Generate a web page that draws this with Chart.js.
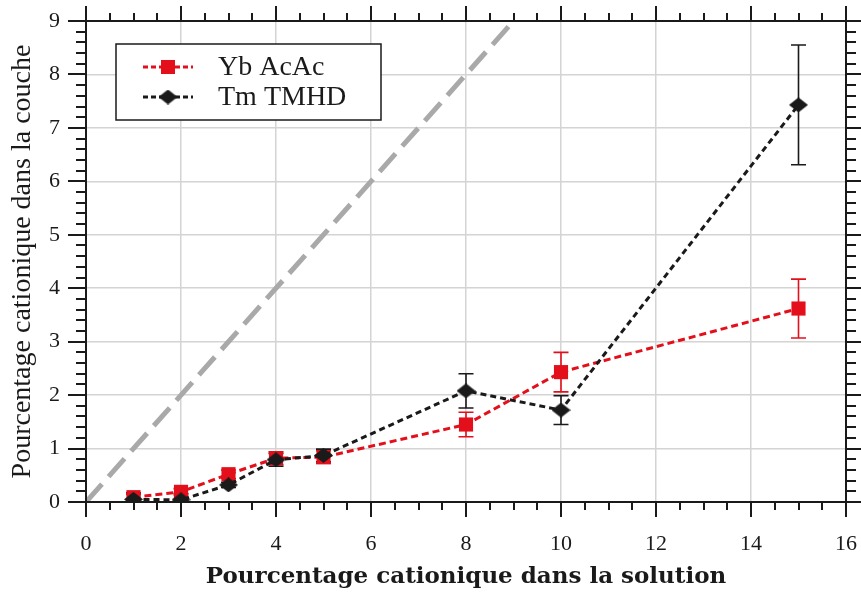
<!DOCTYPE html>
<html>
<head>
<meta charset="utf-8">
<script src="https://cdn.jsdelivr.net/npm/chart.js@4.4.1/dist/chart.umd.min.js"></script>
<style>
  html, body { margin: 0; padding: 0; background: #fff; }
  #wrap { width: 861px; height: 594px; }
</style>
</head>
<body>
<div id="wrap"><canvas id="chart" width="861" height="594"></canvas></div>
<script>
// ---- data ----
const xValues = [1, 2, 3, 4, 5, 8, 10, 15];
const ybLabel = 'Yb AcAc';
const ybValues = [0.09, 0.19, 0.52, 0.82, 0.84, 1.45, 2.43, 3.62];
const ybErrors = [0.05, 0.06, 0.08, 0.12, 0.12, 0.23, 0.37, 0.55];
const tmLabel = 'Tm TMHD';
const tmValues = [0.05, 0.04, 0.32, 0.79, 0.87, 2.08, 1.72, 7.43];
const tmErrors = [0.12, 0.12, 0.05, 0.12, 0.12, 0.32, 0.27, 1.12];
const diagX = [0, 9];
const diagY = [0, 9];

const RED = '#e3101c';
const BLACK = '#1a1a1a';
const SERIF = '"Liberation Serif", "Times New Roman", serif';

const toPts = (xs, ys) => xs.map((x, i) => ({ x, y: ys[i] }));

// flat diamond marker (wider than tall, like the original)
function makeDiamond(w, h, col) {
  const c = document.createElement('canvas');
  c.width = w; c.height = h;
  const g = c.getContext('2d');
  g.fillStyle = col;
  g.beginPath();
  g.moveTo(w / 2, 0); g.lineTo(w, h / 2); g.lineTo(w / 2, h); g.lineTo(0, h / 2);
  g.closePath();
  g.fill();
  return c;
}
const diamond = makeDiamond(19, 15, BLACK);

// kill the extra label padding chart.js adds around the chart area
const noPad = s => { s.paddingTop = 0; s.paddingBottom = 0; s.paddingLeft = 0; s.paddingRight = 0; };

// error bars, box, minor/major ticks, legend
const decor = {
  id: 'decor',
  beforeDatasetsDraw(chart) {
    const { ctx, chartArea: a, scales: { x, y } } = chart;
    const sets = [[ybValues, ybErrors, RED], [tmValues, tmErrors, BLACK]];
    ctx.save();
    ctx.beginPath();
    ctx.rect(a.left, a.top, a.right - a.left, a.bottom - a.top);
    ctx.clip();
    ctx.lineWidth = 1.6;
    sets.forEach(([vals, errs, col]) => {
      ctx.strokeStyle = col;
      xValues.forEach((xv, i) => {
        const px = x.getPixelForValue(xv);
        const lo = y.getPixelForValue(vals[i] - errs[i]);
        const hi = y.getPixelForValue(vals[i] + errs[i]);
        ctx.beginPath();
        ctx.moveTo(px, lo); ctx.lineTo(px, hi);
        ctx.moveTo(px - 7.5, lo); ctx.lineTo(px + 7.5, lo);
        ctx.moveTo(px - 7.5, hi); ctx.lineTo(px + 7.5, hi);
        ctx.stroke();
      });
    });
    ctx.restore();
  },
  afterDraw(chart) {
    const { ctx, chartArea: a, scales: { x, y } } = chart;
    ctx.save();
    ctx.strokeStyle = BLACK;
    ctx.lineWidth = 2;
    ctx.strokeRect(a.left, a.top, a.right - a.left, a.bottom - a.top);

    // x ticks, top and bottom, outward
    for (let i = 0; i <= 32; i++) {
      const px = Math.round(x.getPixelForValue(i * 0.5));
      const len = i % 4 === 0 ? 15 : 8;
      ctx.beginPath();
      ctx.moveTo(px, a.bottom); ctx.lineTo(px, a.bottom + len);
      ctx.moveTo(px, a.top); ctx.lineTo(px, a.top - len);
      ctx.stroke();
    }
    // y ticks, left and right, outward
    for (let i = 0; i <= 45; i++) {
      const py = Math.round(y.getPixelForValue(i * 0.2));
      const major = i % 5 === 0;
      ctx.beginPath();
      ctx.moveTo(a.left, py); ctx.lineTo(a.left - (major ? 18 : 10), py);
      ctx.moveTo(a.right, py); ctx.lineTo(a.right + (major ? 15 : 10), py);
      ctx.stroke();
    }

    // legend
    const bx = a.left + 30, by = a.top + 23, bw = 265, bh = 76;
    ctx.fillStyle = '#fff';
    ctx.fillRect(bx, by, bw, bh);
    ctx.lineWidth = 1.5;
    ctx.strokeRect(bx, by, bw, bh);
    const rows = [
      { label: ybLabel, col: RED },
      { label: tmLabel, col: BLACK }
    ];
    rows.forEach((row, i) => {
      const ly = by + 23 + i * 30;
      const cx = bx + 52;
      ctx.strokeStyle = row.col;
      ctx.lineWidth = 3;
      ctx.setLineDash([5, 3]);
      ctx.beginPath();
      ctx.moveTo(bx + 27, ly); ctx.lineTo(bx + 77, ly);
      ctx.stroke();
      ctx.setLineDash([]);
      if (i === 0) {
        ctx.fillStyle = row.col;
        ctx.fillRect(cx - 7, ly - 7, 14, 14);
      } else {
        ctx.drawImage(diamond, cx - 9.5, ly - 7.5);
      }
      ctx.fillStyle = BLACK;
      ctx.font = '28px ' + SERIF;
      ctx.textBaseline = 'middle';
      ctx.textAlign = 'left';
      ctx.fillText(row.label, bx + 102, ly + 1);
    });
    ctx.restore();
  }
};

new Chart(document.getElementById('chart'), {
  type: 'scatter',
  data: {
    datasets: [
      {
        label: tmLabel,
        data: toPts(xValues, tmValues),
        showLine: true,
        borderColor: BLACK,
        backgroundColor: BLACK,
        borderWidth: 3,
        borderDash: [6, 4],
        pointStyle: diamond,
        pointRadius: 9,
        order: 0
      },
      {
        label: ybLabel,
        data: toPts(xValues, ybValues),
        showLine: true,
        borderColor: RED,
        backgroundColor: RED,
        borderWidth: 3,
        borderDash: [7, 4],
        pointStyle: 'rect',
        pointRadius: 10,
        pointBorderWidth: 0,
        order: 1
      },
      {
        label: 'y = x',
        data: toPts(diagX, diagY),
        showLine: true,
        borderColor: '#a9a9a9',
        borderWidth: 5,
        borderDash: [24, 10],
        pointRadius: 0,
        order: 2
      }
    ]
  },
  options: {
    responsive: false,
    animation: false,
    events: [],
    layout: { padding: { left: 0, right: 15, top: 21, bottom: 0 } },
    plugins: { legend: { display: false }, tooltip: { enabled: false } },
    scales: {
      x: {
        type: 'linear',
        min: 0, max: 16,
        afterFit: s => { s.height = 92; noPad(s); },
        border: { display: false },
        grid: { color: '#d4d4d4', lineWidth: 1.5, drawTicks: false },
        ticks: { stepSize: 2, padding: 29, color: BLACK, font: { family: SERIF, size: 22 } },
        title: {
          display: true,
          text: 'Pourcentage cationique dans la solution',
          color: BLACK,
          padding: { top: 0, bottom: 3 },
          font: { family: '"DejaVu Serif", serif', size: 23, weight: 'bold' }
        }
      },
      y: {
        type: 'linear',
        min: 0, max: 9,
        afterFit: s => { s.width = 86; noPad(s); },
        border: { display: false },
        grid: { color: '#d4d4d4', lineWidth: 1.5, drawTicks: false },
        ticks: { stepSize: 1, padding: 26, color: BLACK, font: { family: SERIF, size: 22 } },
        title: {
          display: true,
          text: 'Pourcentage cationique dans la couche',
          color: BLACK,
          padding: { top: 6, bottom: 0 },
          font: { family: SERIF, size: 28 }
        }
      }
    }
  },
  plugins: [decor]
});
</script>
</body>
</html>
